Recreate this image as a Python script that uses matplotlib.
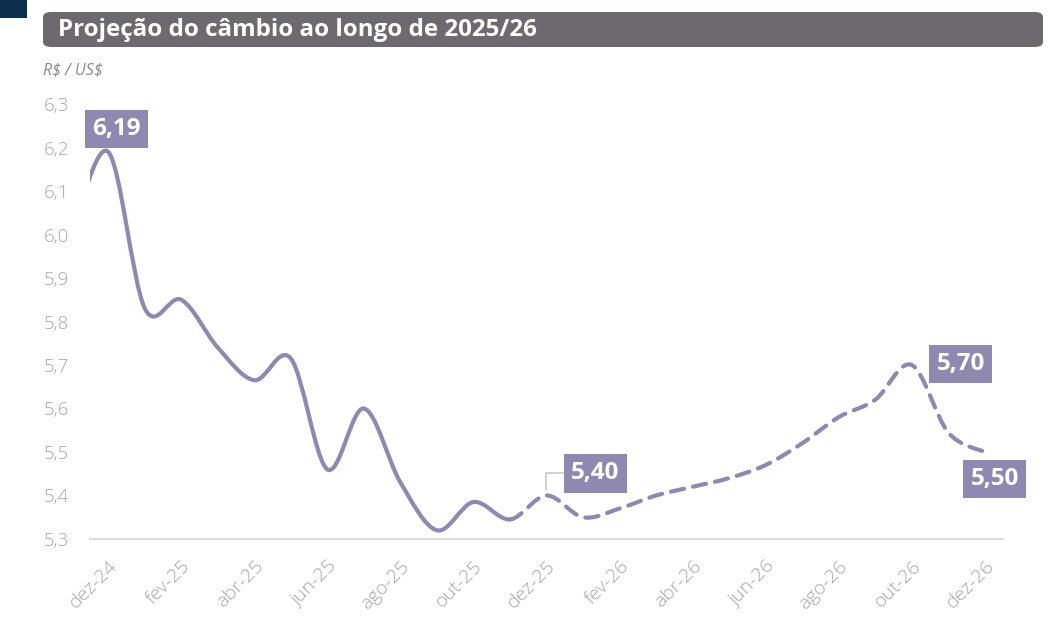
import matplotlib.pyplot as plt
from matplotlib.path import Path
from matplotlib.patches import PathPatch, FancyBboxPatch, Rectangle
from matplotlib.ticker import FuncFormatter

# monthly values, nov-24 .. dez-26 (nov-24 is only partly visible at left edge)
months = ['nov-24', 'dez-24', 'jan-25', 'fev-25', 'mar-25', 'abr-25', 'mai-25', 'jun-25',
          'jul-25', 'ago-25', 'set-25', 'out-25', 'nov-25', 'dez-25', 'jan-26', 'fev-26',
          'mar-26', 'abr-26', 'mai-26', 'jun-26', 'jul-26', 'ago-26', 'set-26', 'out-26',
          'nov-26', 'dez-26']
cambio = [6.00, 6.19, 5.83, 5.85, 5.74, 5.665, 5.715, 5.46, 5.60, 5.43, 5.32, 5.385, 5.345,
          5.40, 5.35, 5.37, 5.40, 5.42, 5.44, 5.47, 5.52, 5.58, 5.62, 5.70, 5.545, 5.50]
last_real = 'nov-25'
tick_labels = months[1::2]
highlights = {'dez-24': '6,19', 'dez-25': '5,40', 'out-26': '5,70', 'dez-26': '5,50'}

LINE = '#8f88b0'
GREY_TXT = '#a9a6a6'
FONT = 'Open Sans'

xs = [i - 1 for i in range(len(months))]  # dez-24 -> 0


def smooth_path(x, y, i0, i1):
    # catmull-rom through the points, drawn as cubic bezier segments
    verts = [(x[i0], y[i0])]
    codes = [Path.MOVETO]
    n = len(x)
    for i in range(i0, i1):
        p0 = max(i - 1, 0)
        p3 = min(i + 2, n - 1)
        c1 = (x[i] + (x[i + 1] - x[p0]) / 6, y[i] + (y[i + 1] - y[p0]) / 6)
        c2 = (x[i + 1] - (x[p3] - x[i]) / 6, y[i + 1] - (y[p3] - y[i]) / 6)
        verts += [c1, c2, (x[i + 1], y[i + 1])]
        codes += [Path.CURVE4] * 3
    return Path(verts, codes)


fig = plt.figure(figsize=(10.55, 6.35), dpi=100)
ax = fig.add_axes([0.0853, 0.1512, 0.8654, 0.6850])

split = months.index(last_real)
solid = PathPatch(smooth_path(xs, cambio, 0, split), fill=False, edgecolor=LINE, lw=3.0,
                  capstyle='round', joinstyle='round')
dashed = PathPatch(smooth_path(xs, cambio, split, len(xs) - 1), fill=False, edgecolor=LINE,
                   lw=3.0, linestyle=(0, (3.2, 2.2)), capstyle='round')
ax.add_patch(solid)
ax.add_patch(dashed)

ax.set_xlim(-0.5, 24.5)
ax.set_ylim(5.3, 6.3)
ax.set_yticks([5.3 + 0.1 * i for i in range(11)])
ax.yaxis.set_major_formatter(FuncFormatter(lambda v, p: f'{v:.1f}'.replace('.', ',')))
ax.set_xticks(range(0, 25, 2))
ax.set_xticklabels(tick_labels, rotation=45, ha='right', rotation_mode='anchor')
ax.tick_params(length=0, labelcolor=GREY_TXT, labelsize=13.5)
ax.tick_params(axis='y', pad=15)
ax.tick_params(axis='x', labelsize=14, pad=13)
for lab in ax.get_xticklabels() + ax.get_yticklabels():
    lab.set_fontfamily(FONT)
    lab.set_fontweight('light')
for s in ['top', 'right', 'left']:
    ax.spines[s].set_visible(False)
ax.spines['bottom'].set_color('#dcdcdc')
ax.spines['bottom'].set_linewidth(1.5)

offsets = {'dez-24': (8, 23), 'dez-25': (49, 22), 'out-26': (49, 1), 'dez-26': (10, -27)}
for m, txt in highlights.items():
    i = months.index(m)
    arrow = None
    if m == 'dez-25':
        arrow = dict(arrowstyle='-', color='#c9c9c9', lw=1.2, shrinkA=0, shrinkB=4,
                     connectionstyle='angle,angleA=0,angleB=90,rad=0')
    ax.annotate(txt, (xs[i], cambio[i]), xytext=offsets[m], textcoords='offset pixels',
                ha='center', va='center', color='white', fontsize=17.5, fontweight='bold',
                family=FONT, annotation_clip=False, arrowprops=arrow,
                bbox=dict(boxstyle='square,pad=0.3', fc=LINE, ec='none'))

# title bar
fig.patches.append(FancyBboxPatch((43 / 1055, 1 - 47 / 635), 1000 / 1055, 35 / 635,
                                  boxstyle='round,pad=0,rounding_size=0.008',
                                  transform=fig.transFigure, fc='#6c6a6f', ec='none'))
fig.patches.append(Rectangle((0, 1 - 18 / 635), 27 / 1055, 18 / 635,
                             transform=fig.transFigure, fc='#0d2d4c', ec='none'))
fig.text(58 / 1055, 1 - 30 / 635, 'Projeção do câmbio ao longo de 2025/26', color='white',
         fontsize=17.4, fontweight='bold', family=FONT, va='center', ha='left')
fig.text(43 / 1055, 1 - 70 / 635, r'R\$ / US\$', color='#8a8a8a', fontsize=11.5,
         style='italic', family=FONT, va='center', ha='left')

plt.savefig('out.png', dpi=100)
